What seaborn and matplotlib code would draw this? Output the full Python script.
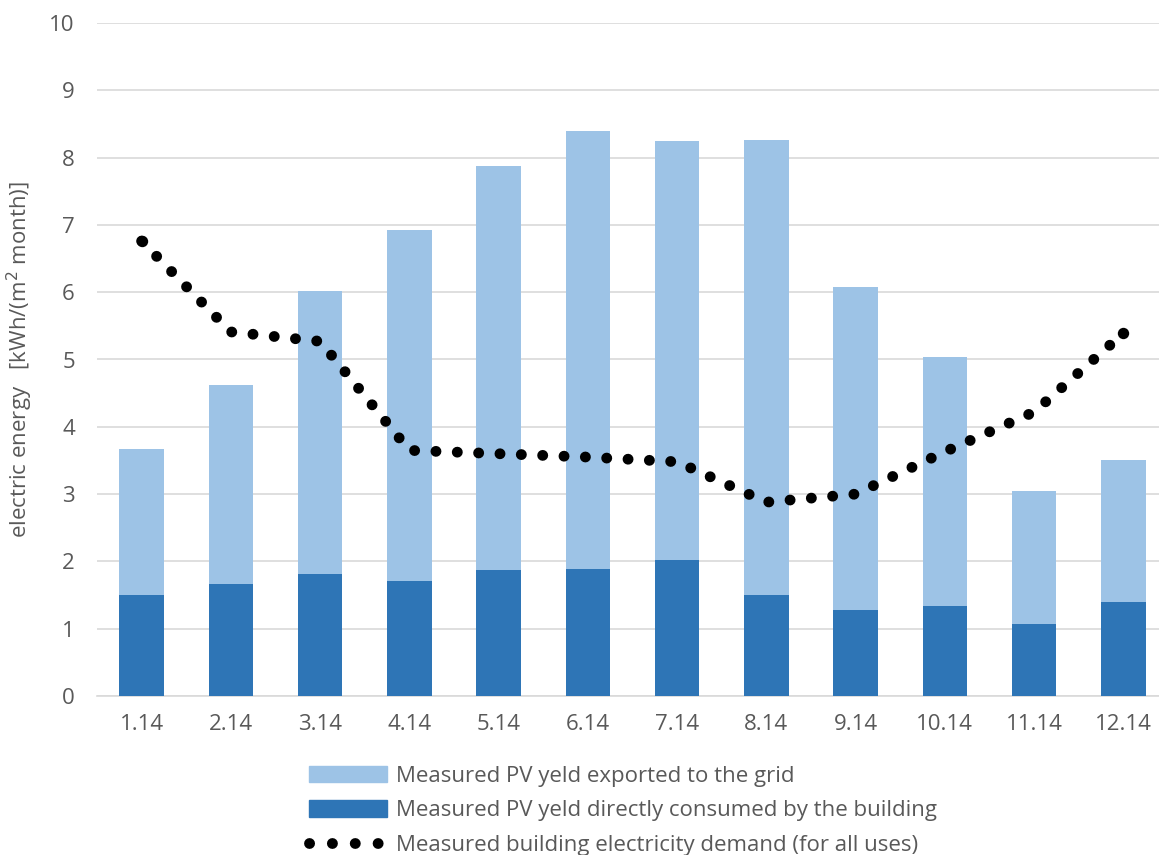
import pandas as pd
import matplotlib
matplotlib.use('Agg')
import matplotlib.pyplot as plt
import numpy as np
import seaborn as sb
from matplotlib.patches import Patch
from matplotlib.lines import Line2D

months = ['1.14', '2.14', '3.14', '4.14', '5.14', '6.14', '7.14', '8.14', '9.14', '10.14', '11.14', '12.14']
pv_total = [3.67, 4.62, 6.02, 6.92, 7.88, 8.40, 8.25, 8.26, 6.08, 5.04, 3.05, 3.51]
pv_consumed = [1.50, 1.66, 1.81, 1.71, 1.87, 1.89, 2.02, 1.50, 1.28, 1.34, 1.07, 1.40]
demand = [6.76, 5.41, 5.27, 3.65, 3.60, 3.55, 3.48, 2.88, 3.00, 3.63, 4.22, 5.39]

df = pd.DataFrame({'Month': months, 'Total': pv_total, 'Consumed': pv_consumed, 'Demand': demand})

sb.set_style('white')
plt.rcParams['font.family'] = ['Open Sans', 'DejaVu Sans']
txt = '#595959'
light = '#9DC3E6'
dark = '#2E75B6'
fs = 16
dot_lw = 7.8

fig = plt.figure(figsize=(11.59, 8.55), dpi=100)
ax = fig.add_axes([97 / 1159, 1 - 696 / 855, (1168 - 97) / 1159, (696 - 23) / 855])

sb.barplot(data=df, x='Month', y='Total', color=light, width=0.5, saturation=1, linewidth=0, ax=ax, zorder=2)
sb.barplot(data=df, x='Month', y='Consumed', color=dark, width=0.5, saturation=1, linewidth=0, ax=ax, zorder=3)
sb.lineplot(data=df, x='Month', y='Demand', sort=False, color='black', linewidth=dot_lw,
            linestyle=(0, (0.01, 1.962)), marker='o', markersize=dot_lw * 1.05, markeredgewidth=0,
            markevery=[0, len(months) - 1], ax=ax, zorder=4)
ax.lines[-1].set_dash_capstyle('round')

ax.set_ylim(0, 10)
ax.set_xlim(-0.5, 11.5)
ax.set_yticks(range(0, 11))
ax.yaxis.grid(True, color='#D9D9D9', linewidth=1.2, zorder=0)
ax.set_axisbelow(True)
for s in ['top', 'right', 'left']:
    ax.spines[s].set_visible(False)
ax.spines['bottom'].set_color('#D9D9D9')
ax.spines['bottom'].set_linewidth(1.2)
ax.tick_params(axis='y', length=0, labelsize=fs, labelcolor=txt, pad=16)
ax.tick_params(axis='x', which='major', length=0, labelsize=fs, labelcolor=txt, pad=13)
ax.set_xticks(np.arange(-0.5, 12, 1), minor=True)
ax.tick_params(axis='x', which='minor', length=7, color='#D9D9D9', width=1.2)
ax.set_xlabel('')
ax.set_ylabel('electric energy   [kWh/(m$^2$ month)]', fontsize=fs, color=txt, labelpad=10)

dot_handle = Line2D([0], [0], color='black', linewidth=dot_lw, linestyle=(0, (0.01, 2.1)))
dot_handle.set_dash_capstyle('round')
handles = [Patch(color=light), Patch(color=dark), dot_handle]
labels = ['Measured PV yeld exported to the grid',
          'Measured PV yeld directly consumed by the building',
          'Measured building electricity demand (for all uses)']
leg = fig.legend(handles, labels, loc='upper left', bbox_to_anchor=(289 / 1159, 1 - 746 / 855),
                 frameon=False, fontsize=fs, handlelength=3.5, handleheight=0.75,
                 labelspacing=0.6, handletextpad=0.4, labelcolor=txt)

fig.savefig('out.png', dpi=100)
